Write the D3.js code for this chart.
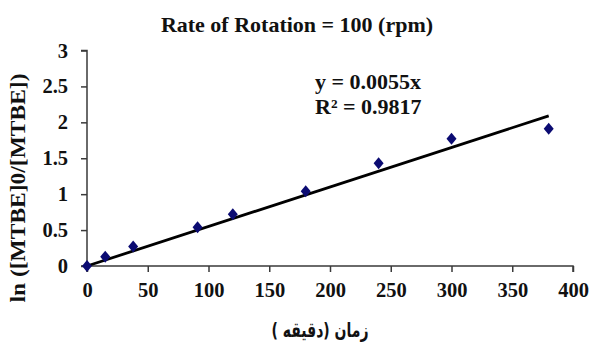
<!DOCTYPE html>
<html>
<head>
<meta charset="utf-8">
<script src="https://cdn.jsdelivr.net/npm/d3@7"></script>
<style>
  body { margin: 0; background: #fff; }
  text { font-family: "Liberation Serif", "Times New Roman", serif; font-weight: bold; fill: #111; }
</style>
</head>
<body>
<div id="chart"></div>
<script>
var width = 590
var height = 343

// time (min) and ln([MTBE]0/[MTBE])
var times = [0, 15, 38, 91, 120, 180, 240, 300, 380]
var lnRatio = [0, 0.13, 0.27, 0.54, 0.72, 1.04, 1.43, 1.77, 1.91]
var xTicks = [0, 50, 100, 150, 200, 250, 300, 350, 400]
var yTicks = [0, 0.5, 1, 1.5, 2, 2.5, 3]
var slope = 0.0055
var fitRange = [0, 380]

var x = d3.scaleLinear().domain([0, 400]).range([87, 573])
var y = d3.scaleLinear().domain([0, 3]).range([266, 50.5])

var svg = d3.select("#chart")
    .append("svg")
        .attr("width", width)
        .attr("height", height)

// axes
var xAxis = svg.append("g")
    .attr("transform", "translate(0," + y(0) + ")")
    .call(d3.axisBottom(x).tickValues(xTicks).tickSize(6).tickPadding(10).tickFormat(d3.format("d")))
var yAxis = svg.append("g")
    .attr("transform", "translate(" + x(0) + ",0)")
    .call(d3.axisLeft(y).tickValues(yTicks).tickSize(6).tickPadding(13).tickFormat(function(d) { return d; }))

svg.selectAll(".domain, .tick line")
    .attr("stroke", "#3a3a3a")
    .attr("stroke-width", 1.5)
svg.selectAll(".tick text")
    .style("font-family", "'Liberation Serif', serif")
    .style("font-weight", "bold")
    .attr("font-size", "20.5px")
    .attr("fill", "#111")
xAxis.selectAll(".domain").attr("d", "M" + x(0) + ",6V0H" + x(400) + "V6")
yAxis.selectAll(".domain").attr("d", "M-6," + y(3) + "H0V" + y(0) + "H-6")

// trend line
svg.append("line")
    .attr("x1", x(fitRange[0]))
    .attr("y1", y(slope * fitRange[0]))
    .attr("x2", x(fitRange[1]))
    .attr("y2", y(slope * fitRange[1]))
    .attr("stroke", "#000")
    .attr("stroke-width", 2.8)

// data points
var points = times.map(function(t, i) { return {t: t, v: lnRatio[i]}; })
svg.selectAll("path.pt")
    .data(points)
    .enter()
    .append("path")
        .attr("class", "pt")
        .attr("d", "M0,-6L5,0L0,6L-5,0Z")
        .attr("transform", function(d) { return "translate(" + x(d.t) + "," + y(d.v) + ")"; })
        .attr("fill", "#0b0b72")

// title
svg.append("text")
    .attr("x", 297)
    .attr("y", 32)
    .attr("text-anchor", "middle")
    .attr("font-size", "22px")
    .text("Rate of Rotation = 100 (rpm)")

// equation
svg.append("text")
    .attr("x", 315)
    .attr("y", 89)
    .attr("font-size", "22px")
    .text("y = 0.0055x")
svg.append("text")
    .attr("x", 315)
    .attr("y", 114)
    .attr("font-size", "22px")
    .text("R² = 0.9817")

// axis titles
svg.append("text")
    .attr("transform", "translate(25,188) rotate(-90)")
    .attr("text-anchor", "middle")
    .attr("font-size", "22px")
    .attr("textLength", 229)
    .attr("lengthAdjust", "spacingAndGlyphs")
    .text("ln ([MTBE]0/[MTBE])")

svg.append("text")
    .attr("x", 320)
    .attr("y", 337)
    .attr("text-anchor", "middle")
    .attr("direction", "rtl")
    .attr("font-size", "20px")
    .attr("textLength", 97)
    .attr("lengthAdjust", "spacingAndGlyphs")
    .style("font-family", "'DejaVu Sans', sans-serif")
    .text("زمان (دقیقه )")
</script>
</body>
</html>
